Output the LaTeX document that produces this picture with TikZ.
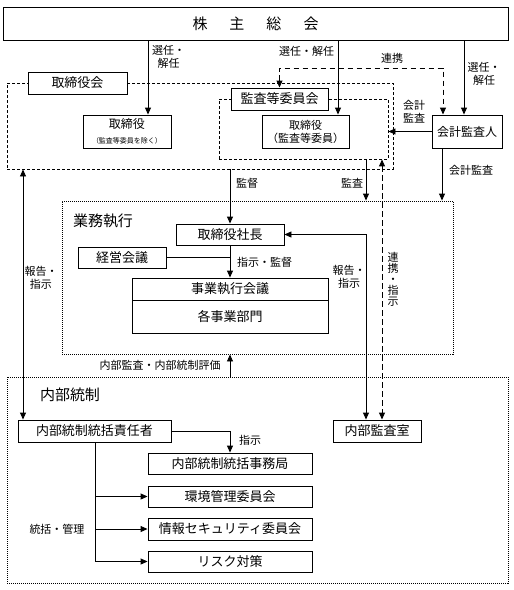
\documentclass[tikz,border=0pt]{standalone}
\usepackage{fontspec}
\setmainfont{Noto Sans CJK JP}
\usetikzlibrary{arrows.meta}

\begin{document}
\begin{tikzpicture}[x=1pt,y=-1pt,
    >={Triangle[length=7pt,width=6pt]},
    box/.style={draw,line width=0.9pt,fill=white,inner sep=0pt,align=center,font=\fontsize{13}{15}\selectfont},
    grp/.style={draw,line width=0.9pt,dash pattern=on 3pt off 2pt,inner sep=0pt},
    dotgrp/.style={draw,line width=0.9pt,dash pattern=on 1pt off 1pt,inner sep=0pt},
    lbl/.style={inner sep=0pt,align=center,font=\fontsize{11}{13}\selectfont},
    grptitle/.style={inner sep=0pt,font=\fontsize{15}{17}\selectfont},
    arr/.style={->,line width=0.9pt},
    link/.style={<->,line width=1pt,dash pattern=on 5.5pt off 3.5pt}]
    \useasboundingbox (0,0) rectangle (514,590);
    \node[grp,minimum width=386pt,minimum height=86pt] (boardgrp) at (200,126) {};
    \node[grp,minimum width=169pt,minimum height=60pt] (acgrp) at (303.5,129) {};
    \node[dotgrp,minimum width=391pt,minimum height=153pt] (execgrp) at (257.5,277.5) {};
    \node[dotgrp,minimum width=501pt,minimum height=206pt] (icgrp) at (257.5,480) {};
    \node[grptitle] (exectitle) at (103,221) {業務執行};
    \node[grptitle] (ictitle) at (70,395) {内部統制};
    \node[box,minimum width=505pt,minimum height=33pt,font=\fontsize{15}{17}\selectfont] (soukai) at (255.5,23.5) {株\hspace{22pt}主\hspace{22pt}総\hspace{22pt}会};
    \node[box,minimum width=99pt,minimum height=22pt] (boardt) at (77.5,83) {取締役会};
    \node[box,minimum width=88pt,minimum height=33pt,font=\fontsize{12}{14}\selectfont] (dir) at (127,131.5) {取締役\\[1pt]{\fontsize{7}{8}\selectfont（監査等委員を除く）}};
    \node[box,minimum width=97pt,minimum height=22pt] (acc) at (279.5,99) {監査等委員会};
    \node[box,minimum width=87pt,minimum height=33pt,font=\fontsize{11}{13}\selectfont] (acdir) at (305.5,131.5) {取締役\\（監査等委員）};
    \node[box,minimum width=70pt,minimum height=33pt,font=\fontsize{12}{14}\selectfont] (auditor) at (467,131.5) {会計監査人};
    \node[box,minimum width=108pt,minimum height=21pt] (pres) at (230,234.5) {取締役社長};
    \node[box,minimum width=88pt,minimum height=21pt] (mgmt) at (122,257.5) {経営会議};
    \node[box,minimum width=196pt,minimum height=22pt] (execm) at (230,289) {事業執行会議};
    \node[box,minimum width=196pt,minimum height=33pt] (depts) at (230,316.5) {各事業部門};
    \node[box,minimum width=153pt,minimum height=22pt] (icoff) at (94.5,431) {内部統制統括責任者};
    \node[box,minimum width=88pt,minimum height=22pt] (iaud) at (377,431) {内部監査室};
    \node[box,minimum width=164pt,minimum height=21pt] (icsec) at (230,463.5) {内部統制統括事務局};
    \node[box,minimum width=164pt,minimum height=21pt] (env) at (230,496.5) {環境管理委員会};
    \node[box,minimum width=164pt,minimum height=22pt] (isec) at (230,529) {情報セキュリティ委員会};
    \node[box,minimum width=164pt,minimum height=21pt] (risk) at (230,561.5) {リスク対策};
    \draw[arr] (soukai.south -| 148,0) -- (dir.north -| 148,0);
    \draw[arr] (soukai.south -| 338,0) -- (acdir.north -| 338,0);
    \draw[arr] (soukai.south -| 464,0) -- (auditor.north -| 464,0);
    \draw[link] (acc.north) -- (acc.north |- 0,68) -| (auditor.north -| 443,0);
    \draw[arr] (auditor.west) -- (auditor.west -| acgrp.east);
    \draw[arr] (auditor.south -| 442,0) -- (execgrp.north -| 442,0);
    \draw[arr] (acgrp.south -| 366,0) -- (execgrp.north -| 366,0);
    \draw[arr] (boardgrp.south -| pres.north) -- (pres.north);
    \draw[link] (acgrp.south -| 382,0) -- (iaud.north -| 382,0);
    \draw[<->,line width=0.9pt] (pres.east) -| (iaud.north -| 366,0);
    \draw[line width=0.9pt] (mgmt.east) -- (mgmt.east -| pres.south);
    \draw[arr] (pres.south) -- (execm.north);
    \draw[<->,line width=0.9pt] (boardgrp.south -| 23,0) -- (icoff.north -| 23,0);
    \draw[arr] (icgrp.north -| 230,0) -- (execgrp.south -| 230,0);
    \draw[arr] (icoff.east) -| (icsec.north);
    \foreach \n in {env,isec,risk}
      \draw[arr] (icoff.south -| 95,0) |- (\n.west);
    \node[lbl] (l1) at (168.5,56.5) {選任・\\解任};
    \node[lbl] (l2) at (306.5,51) {選任・解任};
    \node[lbl] (l3) at (392,58) {連携};
    \node[lbl] (l4) at (484,74) {選任・\\解任};
    \node[lbl] (l5) at (414,112) {会計\\監査};
    \node[lbl] (l6) at (471,170) {会計監査};
    \node[lbl] (l7) at (247,183) {監督};
    \node[lbl] (l8) at (352,183) {監査};
    \node[lbl] (l9) at (264.5,262) {指示・監督};
    \node[lbl] (l10) at (41,278) {報告・\\指示};
    \node[lbl] (l11) at (349,277) {報告・\\指示};
    \node[lbl,font=\fontsize{11}{11}\selectfont] (l12) at (393,279) {連\\携\\・\\指\\示};
    \node[lbl] (l13) at (160,365) {内部監査・内部統制評価};
    \node[lbl] (l14) at (250,440) {指示};
    \node[lbl] (l15) at (57,529) {統括・管理};
\end{tikzpicture}
\end{document}
